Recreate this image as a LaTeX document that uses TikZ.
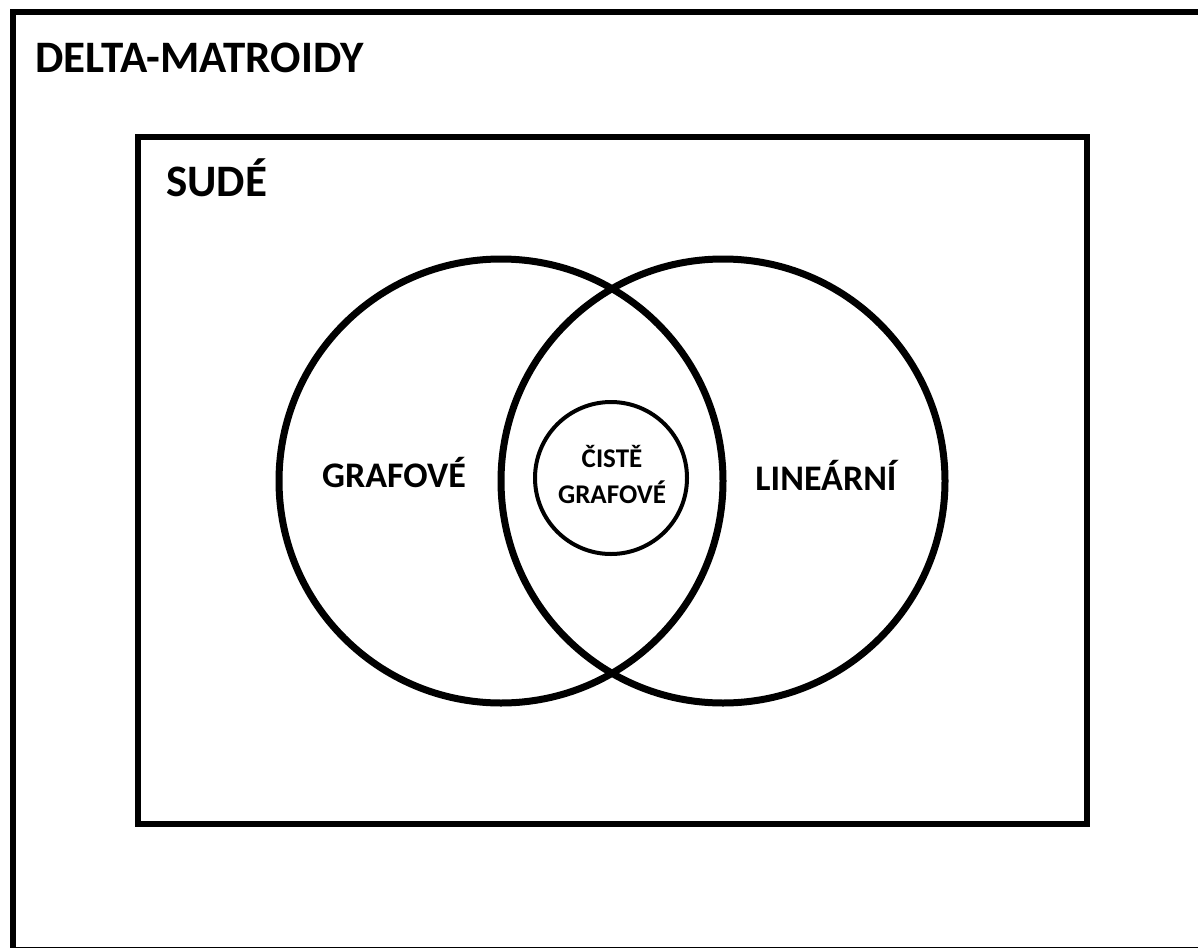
\documentclass[tikz,border=0pt]{standalone}
\usepackage{fontspec}
\setmainfont{Carlito}
\tikzset{
  frame/.style={draw, rectangle, line width=6.5pt, inner sep=0pt},
  bigset/.style={draw, circle, line width=7pt, inner sep=0pt, minimum size=444pt},
  smallset/.style={draw, circle, line width=4pt, inner sep=0pt, minimum size=152pt},
  lbl/.style={inner sep=0pt, font=\bfseries\fontsize{36}{40}\selectfont},
  title/.style={inner sep=0pt, anchor=base west, font=\bfseries\fontsize{45}{50}\selectfont},
  smalllbl/.style={inner sep=0pt, align=center, font=\bfseries\fontsize{27}{36}\selectfont}
}
\begin{document}
\begin{tikzpicture}[x=1pt,y=-1pt]
\useasboundingbox (0,0) rectangle (1198,947);
\clip (0,0) rectangle (1198,947);
\node[frame, minimum width=1192pt, minimum height=938pt] (outer) at (609,481) {};
\node[frame, minimum width=949pt, minimum height=687pt] (inner) at (612.5,480.5) {};
\node[title] (delta) at (35,73) {DELTA-MATROIDY};
\node[title] (sude) at (166,196) {SUDÉ};
\node[bigset] (graf) at (501,481) {};
\node[bigset] (lin) at (723,481) {};
\node[smallset] (cist) at (611,478) {};
\node[lbl] (graft) at (394,473) {GRAFOVÉ};
\node[lbl] (lint) at (826,475) {LINEÁRNÍ};
\node[smalllbl] (cistt) at (612,474) {ČISTĚ\\GRAFOVÉ};
\end{tikzpicture}
\end{document}
